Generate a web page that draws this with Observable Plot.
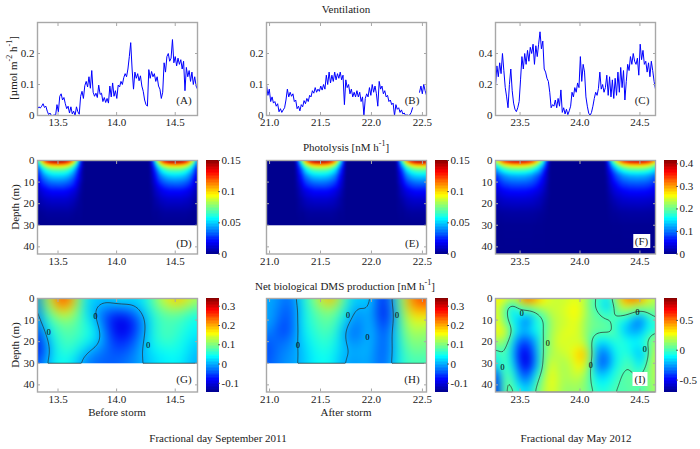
<!DOCTYPE html>
<html><head><meta charset="utf-8">
<script src="https://cdn.jsdelivr.net/npm/d3@7"></script>
<script src="https://cdn.jsdelivr.net/npm/@observablehq/plot@0.6"></script>
<style>
html,body{margin:0;padding:0;background:#fff}
#root{position:relative;width:700px;height:449px;overflow:hidden;font-family:"Liberation Serif",serif;color:#222}
#root svg{position:absolute;background:transparent;overflow:visible}
.t{position:absolute;font-size:11px;line-height:12px;white-space:nowrap;transform:translate(-50%,-50%)}
.t sup{font-size:8px;line-height:0}
.r{transform:translate(-50%,-50%) rotate(-90deg)}
.b{background:#fff;padding:1px 2px}
</style></head><body><div id="root"></div>
<script>
// Ventilation (0.001 umol m-2 h-1), evenly sampled along each panel's time axis
const ventA=[22,28,24,30,38,26,30,14,3,8,0,0,2,0,35,12,62,70,50,58,38,22,30,8,28,5,14,0,28,12,4,62,78,55,96,110,92,125,88,145,75,62,72,58,98,68,72,45,58,42,55,40,95,60,105,62,80,55,98,92,110,100,122,135,125,150,190,235,150,85,140,120,135,112,128,95,78,50,35,30,148,120,142,125,135,110,125,95,85,55,75,170,140,190,200,175,185,245,170,190,160,185,165,180,150,175,80,155,125,145,110,140,100,125,95,85];
const ventB=[100,65,85,45,60,40,45,30,38,12,22,10,18,25,50,85,60,75,62,70,45,50,22,30,15,35,28,48,38,55,45,65,60,80,72,90,75,85,78,95,82,100,85,130,100,140,105,130,110,140,115,135,120,140,115,130,35,115,90,100,70,85,60,75,60,80,60,75,45,60,0,55,70,60,90,65,100,75,95,70,30,110,85,95,70,80,60,65,45,50,35,40,0,35,20,25,10,18,5,8,0,2,0,2,10,25,null,null,null,null,75,95,70,100,80,65];
const ventC=[190,320,250,340,270,400,290,180,120,50,200,300,160,80,40,25,50,90,230,380,300,400,330,420,350,440,400,460,330,450,380,460,540,430,480,300,280,240,220,150,50,70,60,100,50,110,60,165,20,50,10,40,5,30,60,150,120,180,150,210,180,380,220,330,280,120,60,15,0,20,60,110,150,130,175,280,170,200,150,180,260,130,250,120,230,110,240,130,280,150,310,180,290,100,220,330,290,380,330,400,350,330,370,260,460,360,420,330,350,280,340,250,350,290,220,170];

// Photolysis hump tables (0.001 nM h-1): rows = depths, columns = distance from local noon
const photoDepths=[0,2,4,7,10,14,18,24,30,44];
const photoSept=[
[155,152,140,112,78,34,0],[105,103,95,76,52,23,0],[73,72,66,53,36,16,0],[51,50,46,37,25,11,0],[37,36,33,27,18,8,0],
[20,20,18,14,10,4,0],[11,11,10,8,5,2,0],[3,3,3,2,1,1,0],[0,0,0,0,0,0,0],[0,0,0,0,0,0,0]];
const photoMay=[
[410,402,369,295,205,90,0],[279,273,251,201,140,61,0],[197,193,177,142,98,43,0],[127,124,114,91,63,28,0],[94,92,85,68,47,21,0],
[57,56,51,41,29,13,0],[33,32,30,24,16,7,0],[10,10,9,7,5,2,0],[2,2,2,1,1,0,0],[0,0,0,0,0,0,0]];
const offsD=[0,.05,.09,.13,.16,.19,.22], noonD=[13.5,14.5];
const offsE=[0,.055,.1,.15,.18,.22,.25], noonE=[20.5,21.5,22.49];
const offsF=[0,.06,.11,.16,.2,.235,.265], noonF=[23.485,24.475];

// Net biological DMS production (nM h-1)
const depthsGH=[0,3,6,10,15,20,25,30];
const timesG=[13.33,13.43,13.53,13.63,13.73,13.83,13.93,14.03,14.13,14.23,14.33,14.43,14.53,14.69];
const gridG=[
[.05,.14,.28,.2,.03,.02,.02,.06,.02,.03,.1,.17,.22,.12],
[.03,.12,.26,.17,.01,0,-.01,0,0,.02,.09,.13,.16,.08],
[.03,.1,.17,.13,.03,-.01,-.05,-.06,-.03,.01,.07,.09,.09,.06],
[.02,.06,.1,.09,.05,0,-.07,-.11,-.08,-.01,.06,.07,.07,.03],
[-.04,.04,.08,.08,.06,.03,-.05,-.11,-.08,-.01,.06,.08,.06,.03],
[-.09,.02,.07,.07,.05,.02,-.04,-.07,-.05,0,.05,.07,.05,.01],
[-.1,.01,.06,.06,0,-.03,-.04,-.05,-.03,.01,.03,.04,.05,0],
[-.04,.03,.05,.02,-.03,-.04,-.04,-.03,-.02,0,.02,.03,.03,-.01]];
const timesH=[20.97,21.1,21.2,21.3,21.4,21.5,21.6,21.7,21.8,21.9,22,22.1,22.2,22.3,22.4,22.54];
const gridH=[
[0,-.01,-.04,.03,.08,.15,.26,.12,.02,.02,.03,-.09,-.01,.12,.24,.26],
[0,-.02,-.06,.02,.07,.11,.14,.09,.01,-.01,.03,-.11,-.02,.11,.22,.23],
[0,-.03,-.06,.02,.06,.09,.1,.07,0,-.03,.03,-.12,-.03,.1,.2,.18],
[.01,-.03,-.06,.03,.06,.08,.09,.05,-.01,-.03,.03,-.1,-.03,.09,.15,.14],
[-.01,-.06,-.06,.02,.05,.07,.08,.02,-.05,-.03,.03,-.07,-.01,.08,.13,.1],
[-.05,-.03,-.03,.01,.04,.06,.06,.02,-.02,-.01,.02,-.06,-.01,.07,.11,.09],
[-.06,-.02,-.02,0,.03,.05,.05,.01,0,0,.01,-.06,-.01,.06,.09,.08],
[-.04,-.02,-.01,0,.03,.04,.04,0,-.02,-.01,0,-.05,0,.06,.07,.06]];
const depthsI=[0,3,6,10,15,20,25,30,36,43.3];
const timesI=[23.295,23.362,23.428,23.495,23.562,23.628,23.695,23.762,23.828,23.895,23.962,24.028,24.095,24.162,24.228,24.295,24.362,24.428,24.495,24.562,24.63];
const gridI=[
[.3,.3,.25,.35,.7,.5,.3,.2,.2,.2,.25,.2,.05,0,-.1,.1,.5,.6,.55,.3,.15],
[.25,.15,-.2,.1,.15,.25,.25,.2,.2,.22,.28,.2,0,-.05,-.3,.05,.3,.25,.15,.15,.1],
[.25,.1,-.15,-.05,-.05,0,.1,.2,.2,.25,.3,.2,.05,0,-.1,.05,.1,.05,-.02,.05,.05],
[.3,.1,-.1,-.2,-.4,-.05,-.05,.15,.2,.2,.28,.15,.05,.05,0,-.02,-.08,-.2,-.4,-.15,0],
[.25,.35,0,-.2,-.2,-.1,0,.15,.2,.25,.25,.15,.05,.05,.05,0,-.2,-.25,-.25,-.1,-.05],
[.1,.15,-.1,-.4,-.4,-.25,.05,.15,.25,.2,.2,.2,0,-.15,-.15,-.05,-.05,-.1,-.1,0,.2],
[-.1,.05,-.15,-.5,-.55,-.3,.05,.15,.2,.2,.3,.45,.05,-.35,-.3,-.1,-.05,-.1,-.25,-.08,.25],
[-.2,.05,-.1,-.45,-.6,-.3,.05,.25,.15,.15,.25,.35,0,-.4,-.35,-.1,-.03,.02,-.2,.02,.22],
[-.55,.03,.02,-.3,-.4,-.1,.1,.3,.15,.15,.2,.15,0,-.2,-.15,-.05,.03,.05,0,.05,.2],
[-.65,.05,.07,-.05,-.2,.05,.15,.25,.15,.1,.12,.1,.03,-.05,-.05,.03,-.02,.05,0,.05,.15]];
// Zero-contour label anchors [time, depth]
const zeroG=[[13.82,8.2],[13.42,15.7],[14.27,21.7]];
const zeroH=[[21.77,8],[21.28,21.7],[22.25,8],[21.96,18]];
const zeroI=[[23.353,32],[23.73,20.8],[24.09,30.8],[24.48,6.6],[24.54,23.4],[23.515,7]];

const jetPos=[0,.125,.375,.625,.875,1], jetCol=["#00008f","#0000ff","#00ffff","#ffff00","#ff0000","#800000"];
const jetScale=d3.scaleLinear().domain(jetPos).range(jetCol).interpolate(d3.interpolateRgb);
const jet=t=>jetScale(t);
const FRAME="#a8a8a8";
const root=document.getElementById("root");
const f1=d3.format(".1f");

function place(svg,left,top){svg.style.left=left+"px";svg.style.top=top+"px";root.appendChild(svg);}

function panel(o){
  const ml=30,mr=4,mt=4,mb=18;
  const svg=Plot.plot({
    width:o.w+ml+mr,height:o.h+mt+mb,marginLeft:ml,marginRight:mr,marginTop:mt,marginBottom:mb,
    style:{fontFamily:'"Liberation Serif",serif',fontSize:"11px",color:"#222",background:"transparent"},
    x:{domain:o.xd,axis:null},
    y:{domain:o.yd,reverse:o.rev,axis:null},
    color:o.color||undefined,
    marks:[
      ...(o.marks||[]),
      Plot.frame({stroke:FRAME,strokeWidth:1.4}),
      Plot.axisX({ticks:o.xt,tickFormat:f1,tickSize:-3,tickPadding:6,stroke:FRAME,fill:"#222",label:null}),
      Plot.axisX({anchor:"top",ticks:o.xt,tickFormat:()=>"",tickSize:-3,stroke:FRAME,label:null}),
      Plot.axisY({ticks:o.yt,tickFormat:o.noY?()=>"":d=>String(d),tickSize:-3,tickPadding:6,stroke:FRAME,fill:"#222",label:null}),
      Plot.axisY({anchor:"right",ticks:o.yt,tickFormat:()=>"",tickSize:-3,stroke:FRAME,label:null})
    ]
  });
  place(svg,o.left-ml,o.top-mt);
}
function ventPanel(vals,left,w,xd,xt,yd,yt){
  const n=vals.length;
  const rows=vals.map((v,i)=>({t:xd[0]+i*(xd[1]-xd[0])/(n-1),v:v==null?null:v/1000}));
  panel({left,top:22,w,h:93,xd,xt,yd,yt,rev:false,marks:[
    Plot.line(rows,{x:"t",y:"v",stroke:"#0000ff",strokeWidth:1,clip:"frame",curve:"linear"})
  ]});
}
function grid2rows(times,depths,grid,k=1){
  const rows=[];depths.forEach((d,j)=>times.forEach((t,i)=>rows.push({t,d,v:grid[j][i]*k})));return rows;
}
function humpRows(table,offs,noons){
  const rows=[];
  noons.forEach(c=>photoDepths.forEach((d,j)=>offs.forEach((o,i)=>{
    rows.push({t:c+o,d,v:table[j][i]/1000});
    if(o>0)rows.push({t:c-o,d,v:table[j][i]/1000});
  })));
  return rows;
}
function heatMarks(rows,xd,yEnd,blur,contour,labels){
  const opt={x:"t",y:"d",interpolate:"barycentric",x1:xd[0],x2:xd[1],y1:0,y2:yEnd,pixelSize:1};
  const m=[Plot.raster(rows,{...opt,fill:"v",blur})];
  if(contour){
    m.push(Plot.contour(rows,{...opt,value:"v",thresholds:[0],fill:"none",stroke:"#2a2a2a",strokeWidth:.7,blur}));
    m.push(Plot.text(labels,{x:d=>d[0],y:d=>d[1],text:()=>"0",fontSize:8,fill:"#111",stroke:"#111",strokeWidth:.15}));
  }
  return m;
}
function heatPanel(o){
  panel({left:o.left,top:o.top,w:o.w,h:o.h,xd:o.xd,xt:o.xt,yd:[0,43.3],yt:[0,10,20,30,40],rev:true,noY:o.noY,
    color:{type:"linear",domain:o.cd,interpolate:jet,clamp:true},
    marks:heatMarks(o.rows,o.xd,o.yEnd,o.blur,o.contour,o.labels)});
}
function colorbar(left,top,cd,ticks,fmt){
  const w=13,h=93.5,mr=28,mt=4,mb=6;
  const bands=d3.range(64).map(i=>({a:cd[0]+i*(cd[1]-cd[0])/64,b:cd[0]+(i+1)*(cd[1]-cd[0])/64}));
  const svg=Plot.plot({
    width:w+mr+1,height:h+mt+mb,marginLeft:1,marginRight:mr,marginTop:mt,marginBottom:mb,
    style:{fontFamily:'"Liberation Serif",serif',fontSize:"11px",color:"#222",background:"transparent"},
    x:{domain:[0,1],axis:null},y:{domain:cd,axis:null},
    color:{type:"linear",domain:cd,interpolate:jet,clamp:true},
    marks:[
      Plot.rect(bands,{x1:()=>0,x2:()=>1,y1:"a",y2:"b",fill:d=>(d.a+d.b)/2,shapeRendering:"crispEdges"}),
      Plot.axisY({anchor:"right",ticks,tickFormat:fmt,tickSize:-2,tickPadding:4,stroke:"#555",fill:"#222",label:null})
    ]
  });
  place(svg,left-1,top-mt);
}
function txt(x,y,html,cls=""){
  const d=document.createElement("div");d.className="t "+cls;d.style.left=x+"px";d.style.top=y+"px";d.innerHTML=html;root.appendChild(d);
}

const XA=[13.325,14.69],XB=[20.97,22.54],XC=[23.295,24.63];
const TA=[13.5,14,14.5],TB=[21,21.5,22,22.5],TC=[23.5,24,24.5];
ventPanel(ventA,37,160,XA,TA,[0,.3],[0,.1,.2]);
ventPanel(ventB,266,160,XB,TB,[0,.3],[0,.1,.2]);
ventPanel(ventC,495,160,XC,TC,[0,.6],[0,.2,.4]);

heatPanel({left:37,top:160,w:160,h:93.5,xd:XA,xt:TA,rows:humpRows(photoSept,offsD,noonD),yEnd:30,cd:[0,.15],blur:1});
heatPanel({left:266,top:160,w:160,h:93.5,xd:XB,xt:TB,noY:true,rows:humpRows(photoSept,offsE,noonE),yEnd:30,cd:[0,.15],blur:1});
heatPanel({left:495,top:160,w:160,h:93.5,xd:XC,xt:TC,rows:humpRows(photoMay,offsF,noonF),yEnd:43.3,cd:[0,.415],blur:1});

heatPanel({left:37,top:298,w:160,h:93.5,xd:XA,xt:TA,rows:grid2rows(timesG,depthsGH,gridG),yEnd:30,cd:[-.145,.34],blur:6,contour:true,labels:zeroG});
heatPanel({left:266,top:298,w:160,h:93.5,xd:XB,xt:TB,noY:true,rows:grid2rows(timesH,depthsGH,gridH),yEnd:30,cd:[-.145,.34],blur:6,contour:true,labels:zeroH});
heatPanel({left:495,top:298,w:160,h:93.5,xd:XC,xt:TC,rows:grid2rows(timesI,depthsI,gridI),yEnd:43.3,cd:[-.7,.867],blur:4,contour:true,labels:zeroI});

colorbar(206,160,[0,.15],[0,.05,.1,.15],d=>String(d));
colorbar(435,160,[0,.15],[0,.05,.1,.15],d=>String(d));
colorbar(664,160,[0,.415],[0,.1,.2,.3,.4],d=>String(d));
colorbar(206,298,[-.145,.34],[-.1,0,.1,.2,.3],d=>String(d));
colorbar(435,298,[-.145,.34],[-.1,0,.1,.2,.3],d=>String(d));
colorbar(664,298,[-.7,.867],[-.5,0,.5],d=>String(d));

txt(346,9,"Ventilation");
txt(346,147,"Photolysis [nM h<sup>-1</sup>]");
txt(345,286,"Net biological DMS production [nM h<sup>-1</sup>]");
txt(117,412,"Before storm");
txt(346,412,"After storm");
txt(218,438,"Fractional day September 2011");
txt(576,438,"Fractional day May 2012");
txt(13,68,"[µmol m<sup>-2</sup> h<sup>-1</sup>]","r");
txt(15,207,"Depth (m)","r");
txt(15,345,"Depth (m)","r");
[["(A)",184,100],["(B)",412,100],["(C)",642,100],["(D)",184,243],["(E)",412,243],["(G)",184,379],["(H)",412,379]].forEach(d=>txt(d[1],d[2],d[0]));
txt(641.5,241,"(F)","b");
txt(640,379,"(I)","b");
</script></body></html>
